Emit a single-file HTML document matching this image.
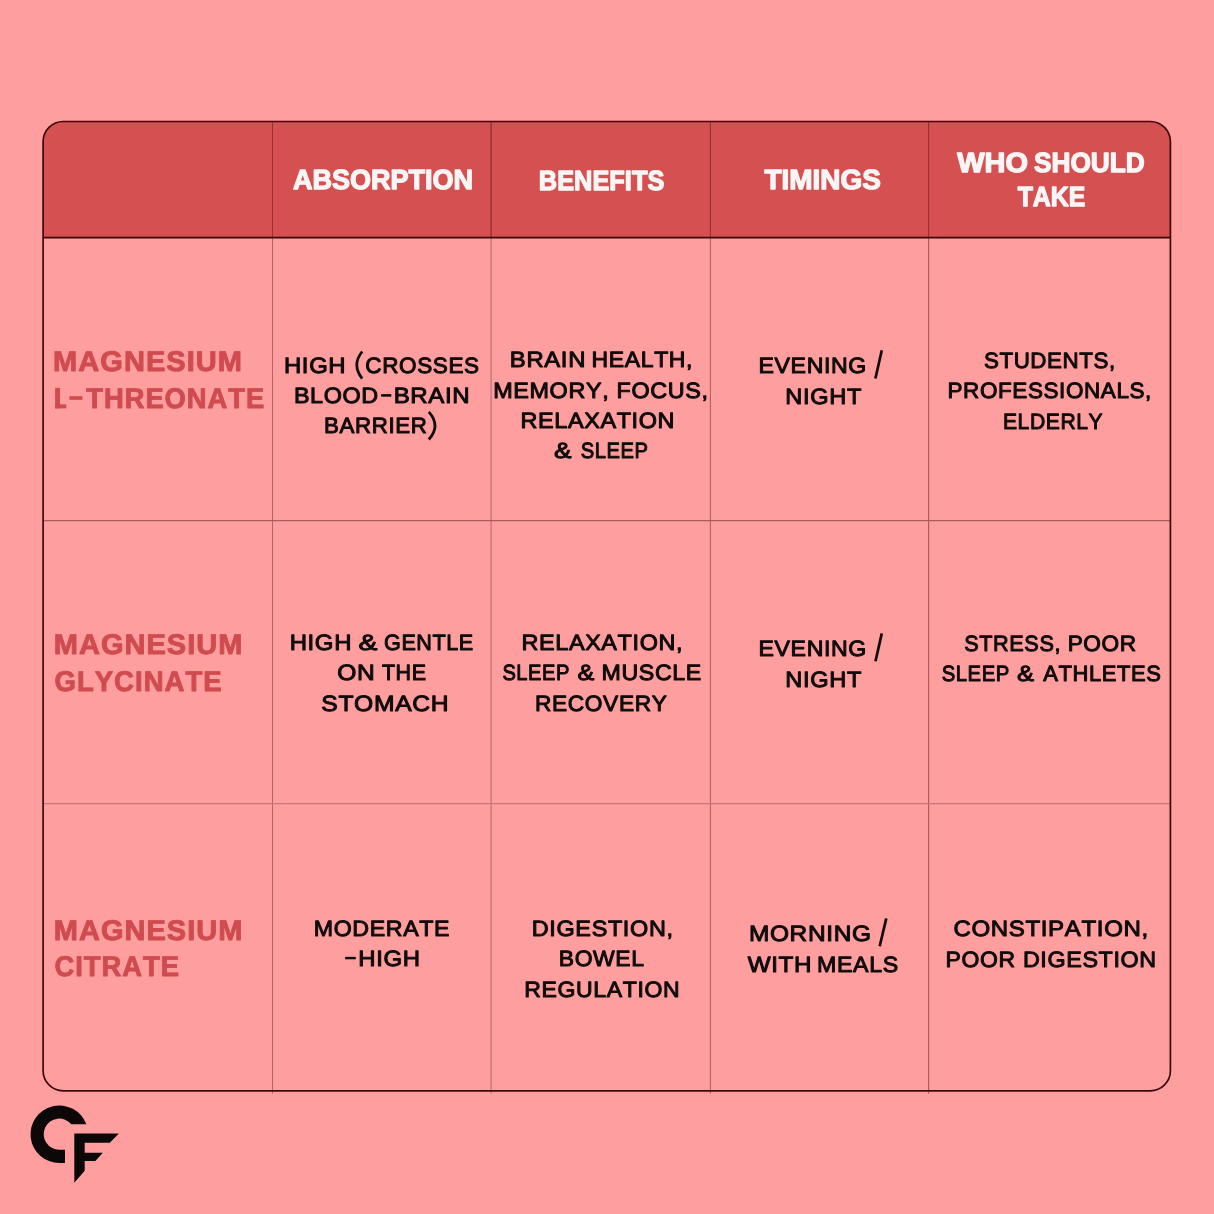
<!DOCTYPE html>
<html><head><meta charset="utf-8"><title>Magnesium forms comparison</title>
<style>
html,body{margin:0;padding:0;background:#FF9E9E;width:1214px;height:1214px;overflow:hidden;}
svg{display:block;will-change:transform;font-family:"Liberation Sans",sans-serif;font-kerning:none;text-rendering:geometricPrecision;}
</style></head><body>
<svg width="1214" height="1214" viewBox="0 0 1214 1214">
<rect x="0" y="0" width="1214" height="1214" fill="#FF9E9E"/>
<path d="M43.1,237.65 V141.5 A20.0,20.0 0 0 1 63.1,121.5 H1150.4 A20.0,20.0 0 0 1 1170.4,141.5 V237.65 Z" fill="#D45051"/>
<line x1="272.5" y1="121.5" x2="272.5" y2="237.65" stroke="#98302E" stroke-width="1.0"/>
<line x1="272.5" y1="237.65" x2="272.5" y2="1093.6" stroke="#B46266" stroke-width="1.0"/>
<line x1="491.1" y1="121.5" x2="491.1" y2="237.65" stroke="#98302E" stroke-width="1.4"/>
<line x1="491.1" y1="237.65" x2="491.1" y2="1093.6" stroke="#C6797B" stroke-width="1.4"/>
<line x1="710.4" y1="121.5" x2="710.4" y2="237.65" stroke="#98302E" stroke-width="1.1"/>
<line x1="710.4" y1="237.65" x2="710.4" y2="1093.6" stroke="#B26264" stroke-width="1.1"/>
<line x1="928.6" y1="121.5" x2="928.6" y2="237.65" stroke="#98302E" stroke-width="1.1"/>
<line x1="928.6" y1="237.65" x2="928.6" y2="1093.6" stroke="#AA5456" stroke-width="1.1"/>
<line x1="43.1" y1="520.6" x2="1170.4" y2="520.6" stroke="#A85C5E" stroke-width="1.3"/>
<line x1="43.1" y1="803.6" x2="1170.4" y2="803.6" stroke="#C47A7C" stroke-width="1.2"/>
<line x1="43.1" y1="237.65" x2="1170.4" y2="237.65" stroke="#3D0505" stroke-width="1.7"/>
<rect x="43.1" y="121.5" width="1127.30" height="969.30" rx="20.0" ry="20.0" fill="none" stroke="#3A0B0C" stroke-width="1.7"/>
<text transform="translate(292.88,189.45) scale(0.9792,1)" font-size="27.62" font-weight="bold" fill="#FBF6F6" stroke="#FBF6F6" stroke-width="1.30" stroke-linejoin="round">ABSORPTION</text>
<text transform="translate(538.85,189.65) scale(0.9189,1)" font-size="27.62" font-weight="bold" fill="#FBF6F6" stroke="#FBF6F6" stroke-width="1.30" stroke-linejoin="round">BENEFITS</text>
<text transform="translate(764.54,189.35) scale(1.0108,1)" font-size="27.62" font-weight="bold" fill="#FBF6F6" stroke="#FBF6F6" stroke-width="1.30" stroke-linejoin="round">TIMINGS</text>
<text transform="translate(957.22,172.25) scale(1.0482,1)" font-size="27.62" font-weight="bold" fill="#FBF6F6" stroke="#FBF6F6" stroke-width="1.30" stroke-linejoin="round">WHO</text>
<text transform="translate(1033.89,172.25) scale(0.9516,1)" font-size="27.62" font-weight="bold" fill="#FBF6F6" stroke="#FBF6F6" stroke-width="1.30" stroke-linejoin="round">SHOULD</text>
<text transform="translate(1017.67,205.95) scale(0.9012,1)" font-size="27.62" font-weight="bold" fill="#FBF6F6" stroke="#FBF6F6" stroke-width="1.30" stroke-linejoin="round">TAKE</text>
<text transform="translate(53.11,371.45) scale(1.0196,1)" font-size="28.49" font-weight="bold" fill="#D04B50" letter-spacing="1.000" stroke="#D04B50" stroke-width="0.90" stroke-linejoin="round">MAGNESIUM</text>
<text transform="translate(86.24,408.15) scale(0.9612,1)" font-size="28.49" font-weight="bold" fill="#D04B50" letter-spacing="1.000" stroke="#D04B50" stroke-width="0.90" stroke-linejoin="round">THREONATE</text>
<text transform="translate(53.71,654.35) scale(1.0190,1)" font-size="28.49" font-weight="bold" fill="#D04B50" letter-spacing="1.000" stroke="#D04B50" stroke-width="0.90" stroke-linejoin="round">MAGNESIUM</text>
<text transform="translate(54.52,690.85) scale(0.9682,1)" font-size="28.49" font-weight="bold" fill="#D04B50" letter-spacing="1.000" stroke="#D04B50" stroke-width="0.90" stroke-linejoin="round">GLYCINATE</text>
<text transform="translate(53.71,939.75) scale(1.0190,1)" font-size="28.49" font-weight="bold" fill="#D04B50" letter-spacing="1.000" stroke="#D04B50" stroke-width="0.90" stroke-linejoin="round">MAGNESIUM</text>
<text transform="translate(54.53,976.25) scale(0.9618,1)" font-size="28.49" font-weight="bold" fill="#D04B50" letter-spacing="1.000" stroke="#D04B50" stroke-width="0.90" stroke-linejoin="round">CITRATE</text>
<text transform="translate(283.94,373.10) scale(1.0820,1)" font-size="22.09" font-weight="normal" fill="#100C0C" letter-spacing="0.600" stroke="#100C0C" stroke-width="1.00" stroke-linejoin="round">HIGH</text>
<text transform="translate(365.36,373.10) scale(1.0191,1)" font-size="22.09" font-weight="normal" fill="#100C0C" letter-spacing="0.600" stroke="#100C0C" stroke-width="1.00" stroke-linejoin="round">CROSSES</text>
<text transform="translate(293.88,403.30) scale(1.0575,1)" font-size="22.09" font-weight="normal" fill="#100C0C" letter-spacing="0.600" stroke="#100C0C" stroke-width="1.00" stroke-linejoin="round">BLOOD</text>
<text transform="translate(393.63,403.30) scale(1.0889,1)" font-size="22.09" font-weight="normal" fill="#100C0C" letter-spacing="0.600" stroke="#100C0C" stroke-width="1.00" stroke-linejoin="round">BRAIN</text>
<text transform="translate(324.07,433.40) scale(1.0093,1)" font-size="22.09" font-weight="normal" fill="#100C0C" letter-spacing="0.600" stroke="#100C0C" stroke-width="1.00" stroke-linejoin="round">BARRIER</text>
<text transform="translate(509.84,367.00) scale(1.0813,1)" font-size="22.09" font-weight="normal" fill="#100C0C" letter-spacing="0.600" stroke="#100C0C" stroke-width="1.00" stroke-linejoin="round">BRAIN</text>
<text transform="translate(591.61,367.00) scale(1.0410,1)" font-size="22.09" font-weight="normal" fill="#100C0C" letter-spacing="0.600" stroke="#100C0C" stroke-width="1.00" stroke-linejoin="round">HEALTH,</text>
<text transform="translate(493.18,397.50) scale(1.0587,1)" font-size="22.09" font-weight="normal" fill="#100C0C" letter-spacing="0.600" stroke="#100C0C" stroke-width="1.00" stroke-linejoin="round">MEMORY,</text>
<text transform="translate(616.58,397.50) scale(1.0572,1)" font-size="22.09" font-weight="normal" fill="#100C0C" letter-spacing="0.600" stroke="#100C0C" stroke-width="1.00" stroke-linejoin="round">FOCUS,</text>
<text transform="translate(520.48,427.90) scale(1.0603,1)" font-size="22.09" font-weight="normal" fill="#100C0C" letter-spacing="0.600" stroke="#100C0C" stroke-width="1.00" stroke-linejoin="round">RELAXATION</text>
<text transform="translate(554.08,458.20) scale(1.1899,1)" font-size="22.09" font-weight="normal" fill="#100C0C" stroke="#100C0C" stroke-width="1.00" stroke-linejoin="round">&amp;</text>
<text transform="translate(580.78,458.20) scale(0.9124,1)" font-size="22.09" font-weight="normal" fill="#100C0C" letter-spacing="0.600" stroke="#100C0C" stroke-width="1.00" stroke-linejoin="round">SLEEP</text>
<text transform="translate(758.50,373.10) scale(1.0474,1)" font-size="22.09" font-weight="normal" fill="#100C0C" letter-spacing="0.600" stroke="#100C0C" stroke-width="1.00" stroke-linejoin="round">EVENING</text>
<text transform="translate(785.36,403.80) scale(1.0682,1)" font-size="22.09" font-weight="normal" fill="#100C0C" letter-spacing="0.600" stroke="#100C0C" stroke-width="1.00" stroke-linejoin="round">NIGHT</text>
<text transform="translate(983.89,367.90) scale(1.0112,1)" font-size="22.09" font-weight="normal" fill="#100C0C" letter-spacing="0.600" stroke="#100C0C" stroke-width="1.00" stroke-linejoin="round">STUDENTS,</text>
<text transform="translate(947.46,398.20) scale(1.0173,1)" font-size="22.09" font-weight="normal" fill="#100C0C" letter-spacing="0.600" stroke="#100C0C" stroke-width="1.00" stroke-linejoin="round">PROFESSIONALS,</text>
<text transform="translate(1002.97,428.50) scale(0.9559,1)" font-size="22.09" font-weight="normal" fill="#100C0C" letter-spacing="0.600" stroke="#100C0C" stroke-width="1.00" stroke-linejoin="round">ELDERLY</text>
<text transform="translate(289.64,650.00) scale(1.0839,1)" font-size="22.09" font-weight="normal" fill="#100C0C" letter-spacing="0.600" stroke="#100C0C" stroke-width="1.00" stroke-linejoin="round">HIGH</text>
<text transform="translate(358.40,650.00) scale(1.2854,1)" font-size="22.09" font-weight="normal" fill="#100C0C" stroke="#100C0C" stroke-width="1.00" stroke-linejoin="round">&amp;</text>
<text transform="translate(384.01,650.00) scale(0.9772,1)" font-size="22.09" font-weight="normal" fill="#100C0C" letter-spacing="0.600" stroke="#100C0C" stroke-width="1.00" stroke-linejoin="round">GENTLE</text>
<text transform="translate(337.13,679.70) scale(1.1136,1)" font-size="22.09" font-weight="normal" fill="#100C0C" letter-spacing="0.600" stroke="#100C0C" stroke-width="1.00" stroke-linejoin="round">ON</text>
<text transform="translate(381.92,679.70) scale(0.9718,1)" font-size="22.09" font-weight="normal" fill="#100C0C" letter-spacing="0.600" stroke="#100C0C" stroke-width="1.00" stroke-linejoin="round">THE</text>
<text transform="translate(321.28,710.70) scale(1.1163,1)" font-size="22.09" font-weight="normal" fill="#100C0C" letter-spacing="0.600" stroke="#100C0C" stroke-width="1.00" stroke-linejoin="round">STOMACH</text>
<text transform="translate(521.48,650.30) scale(1.0596,1)" font-size="22.09" font-weight="normal" fill="#100C0C" letter-spacing="0.600" stroke="#100C0C" stroke-width="1.00" stroke-linejoin="round">RELAXATION,</text>
<text transform="translate(502.39,680.20) scale(0.9096,1)" font-size="22.09" font-weight="normal" fill="#100C0C" letter-spacing="0.600" stroke="#100C0C" stroke-width="1.00" stroke-linejoin="round">SLEEP</text>
<text transform="translate(577.42,680.20) scale(1.1385,1)" font-size="22.09" font-weight="normal" fill="#100C0C" stroke="#100C0C" stroke-width="1.00" stroke-linejoin="round">&amp;</text>
<text transform="translate(601.50,680.20) scale(1.0508,1)" font-size="22.09" font-weight="normal" fill="#100C0C" letter-spacing="0.600" stroke="#100C0C" stroke-width="1.00" stroke-linejoin="round">MUSCLE</text>
<text transform="translate(535.04,711.00) scale(1.0286,1)" font-size="22.09" font-weight="normal" fill="#100C0C" letter-spacing="0.600" stroke="#100C0C" stroke-width="1.00" stroke-linejoin="round">RECOVERY</text>
<text transform="translate(758.50,656.10) scale(1.0474,1)" font-size="22.09" font-weight="normal" fill="#100C0C" letter-spacing="0.600" stroke="#100C0C" stroke-width="1.00" stroke-linejoin="round">EVENING</text>
<text transform="translate(785.36,686.50) scale(1.0682,1)" font-size="22.09" font-weight="normal" fill="#100C0C" letter-spacing="0.600" stroke="#100C0C" stroke-width="1.00" stroke-linejoin="round">NIGHT</text>
<text transform="translate(964.22,650.80) scale(0.9812,1)" font-size="22.09" font-weight="normal" fill="#100C0C" letter-spacing="0.600" stroke="#100C0C" stroke-width="1.00" stroke-linejoin="round">STRESS,</text>
<text transform="translate(1067.64,650.80) scale(1.0262,1)" font-size="22.09" font-weight="normal" fill="#100C0C" letter-spacing="0.600" stroke="#100C0C" stroke-width="1.00" stroke-linejoin="round">POOR</text>
<text transform="translate(941.68,681.10) scale(0.9180,1)" font-size="22.09" font-weight="normal" fill="#100C0C" letter-spacing="0.600" stroke="#100C0C" stroke-width="1.00" stroke-linejoin="round">SLEEP</text>
<text transform="translate(1017.10,681.10) scale(1.1606,1)" font-size="22.09" font-weight="normal" fill="#100C0C" stroke="#100C0C" stroke-width="1.00" stroke-linejoin="round">&amp;</text>
<text transform="translate(1043.16,681.10) scale(0.9956,1)" font-size="22.09" font-weight="normal" fill="#100C0C" letter-spacing="0.600" stroke="#100C0C" stroke-width="1.00" stroke-linejoin="round">ATHLETES</text>
<text transform="translate(313.70,935.60) scale(1.0502,1)" font-size="22.09" font-weight="normal" fill="#100C0C" letter-spacing="0.600" stroke="#100C0C" stroke-width="1.00" stroke-linejoin="round">MODERATE</text>
<text transform="translate(358.34,966.10) scale(1.0839,1)" font-size="22.09" font-weight="normal" fill="#100C0C" letter-spacing="0.600" stroke="#100C0C" stroke-width="1.00" stroke-linejoin="round">HIGH</text>
<text transform="translate(531.78,935.50) scale(1.0618,1)" font-size="22.09" font-weight="normal" fill="#100C0C" letter-spacing="0.600" stroke="#100C0C" stroke-width="1.00" stroke-linejoin="round">DIGESTION,</text>
<text transform="translate(558.72,965.90) scale(1.0383,1)" font-size="22.09" font-weight="normal" fill="#100C0C" letter-spacing="0.600" stroke="#100C0C" stroke-width="1.00" stroke-linejoin="round">BOWEL</text>
<text transform="translate(524.31,996.80) scale(1.0425,1)" font-size="22.09" font-weight="normal" fill="#100C0C" letter-spacing="0.600" stroke="#100C0C" stroke-width="1.00" stroke-linejoin="round">REGULATION</text>
<text transform="translate(748.89,941.00) scale(1.1074,1)" font-size="22.09" font-weight="normal" fill="#100C0C" letter-spacing="0.600" stroke="#100C0C" stroke-width="1.00" stroke-linejoin="round">MORNING</text>
<text transform="translate(747.69,971.80) scale(1.0969,1)" font-size="22.09" font-weight="normal" fill="#100C0C" letter-spacing="0.600" stroke="#100C0C" stroke-width="1.00" stroke-linejoin="round">WITH</text>
<text transform="translate(817.00,971.80) scale(1.0500,1)" font-size="22.09" font-weight="normal" fill="#100C0C" letter-spacing="0.600" stroke="#100C0C" stroke-width="1.00" stroke-linejoin="round">MEALS</text>
<text transform="translate(953.38,935.80) scale(1.0886,1)" font-size="22.09" font-weight="normal" fill="#100C0C" letter-spacing="0.600" stroke="#100C0C" stroke-width="1.00" stroke-linejoin="round">CONSTIPATION,</text>
<text transform="translate(945.51,966.50) scale(1.0402,1)" font-size="22.09" font-weight="normal" fill="#100C0C" letter-spacing="0.600" stroke="#100C0C" stroke-width="1.00" stroke-linejoin="round">POOR</text>
<text transform="translate(1022.89,966.50) scale(1.0553,1)" font-size="22.09" font-weight="normal" fill="#100C0C" letter-spacing="0.600" stroke="#100C0C" stroke-width="1.00" stroke-linejoin="round">DIGESTION</text>
<path d="M362.2,351.5 Q351.4,365 362.2,378.6" fill="none" stroke="#100C0C" stroke-width="2.7"/>
<path d="M428.8,411.8 Q441.2,425.6 428.8,439.5" fill="none" stroke="#100C0C" stroke-width="2.7"/>
<rect x="381.1" y="394.1" width="10.2" height="2.6" fill="#100C0C"/>
<rect x="345.1" y="956.9" width="10.7" height="2.4" fill="#100C0C"/>
<rect x="69.4" y="396.2" width="13.0" height="3.6" fill="#D04B50"/>
<rect x="55.1" y="387.9" width="4.95" height="20.5" fill="#D04B50"/>
<rect x="55.1" y="404.4" width="11.2" height="4.0" fill="#D04B50"/>
<line x1="881.8" y1="350.3" x2="875.4" y2="378.5" stroke="#100C0C" stroke-width="2.7"/>
<line x1="881.8" y1="633.4" x2="875.5" y2="661.3" stroke="#100C0C" stroke-width="2.7"/>
<line x1="886.3" y1="918.4" x2="879.7" y2="946.3" stroke="#100C0C" stroke-width="2.7"/>
<path d="M86.34,1124.30 A28.8,28.8 0 1 0 59.30,1163.00 L65.00,1163.00 L65.00,1149.80 L59.30,1149.80 A15.6,15.6 0 1 1 71.36,1124.30 Z" fill="#0D0808"/>
<path d="M74.3,1133.4 L118.9,1133.4 L109.8,1142.8 L84.7,1142.8 L84.7,1152.7 L102.8,1152.7 L95.4,1161 L84.7,1161 L84.7,1170.8 L74.3,1182.8 Z" fill="#0D0808"/>
</svg>
</body></html>
